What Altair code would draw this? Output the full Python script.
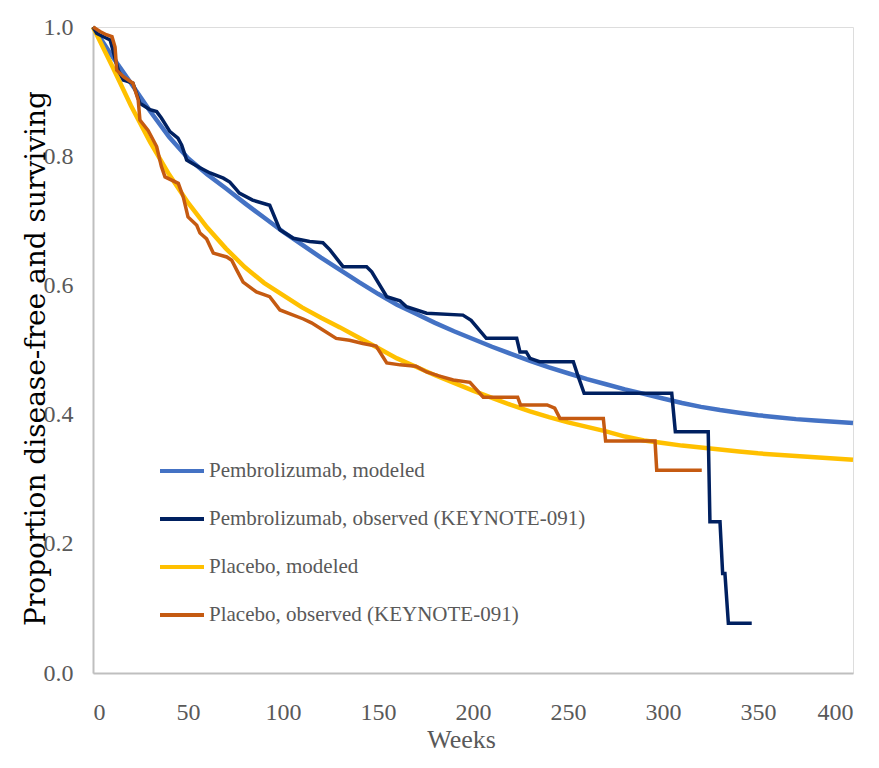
import altair as alt
import pandas as pd

SERIES = [
    "Pembrolizumab, modeled",
    "Pembrolizumab, observed (KEYNOTE-091)",
    "Placebo, modeled",
    "Placebo, observed (KEYNOTE-091)",
]
COLORS = ["#4472C4", "#002060", "#FFC000", "#C55A11"]

model_weeks = list(range(0, 401, 10))
pembro_model = [1.0, 0.955, 0.913, 0.87, 0.83, 0.797, 0.772, 0.75, 0.727, 0.705,
                0.683, 0.663, 0.643, 0.624, 0.605, 0.587, 0.57, 0.556, 0.542, 0.529,
                0.517, 0.505, 0.494, 0.483, 0.473, 0.464, 0.455, 0.447, 0.439, 0.432,
                0.425, 0.418, 0.412, 0.407, 0.403, 0.399, 0.396, 0.393, 0.391, 0.389,
                0.387]
placebo_model = [1.0, 0.94, 0.878, 0.822, 0.772, 0.728, 0.69, 0.657, 0.628, 0.604,
                 0.585, 0.566, 0.55, 0.535, 0.519, 0.503, 0.487, 0.474, 0.461, 0.449,
                 0.437, 0.426, 0.415, 0.405, 0.396, 0.388, 0.381, 0.374, 0.366, 0.36,
                 0.356, 0.352, 0.349, 0.346, 0.343, 0.34, 0.338, 0.336, 0.334, 0.332,
                 0.33]

pembro_obs_weeks = [0, 2, 9, 13.3, 16, 21, 24.7, 30, 33.5, 36, 40.5, 44.7, 46.7, 49.3,
                    51, 56.3, 61.6, 68.6, 72, 75.6, 77, 84, 93, 98.4, 105.4, 114, 121,
                    124.7, 131.6, 144, 146.7, 154.6, 161.6, 165, 175.6, 194.7, 199, 207,
                    223, 224.7, 228, 230, 235, 252.8, 255.4, 258.5, 304.6, 306.5, 323.8,
                    324.7, 330, 331.4, 332.6, 334.4, 346.7]
pembro_obs = [1.0, 0.99, 0.98, 0.933, 0.918, 0.913, 0.882, 0.872, 0.869, 0.859, 0.838,
              0.828, 0.817, 0.794, 0.791, 0.782, 0.774, 0.766, 0.76, 0.748, 0.743, 0.732,
              0.724, 0.686, 0.673, 0.668, 0.666, 0.655, 0.629, 0.629, 0.621, 0.5825,
              0.576, 0.567, 0.557, 0.554, 0.546, 0.518, 0.518, 0.497, 0.497, 0.487,
              0.482, 0.482, 0.4587, 0.433, 0.433, 0.3735, 0.3735, 0.234, 0.234, 0.154,
              0.154, 0.077, 0.077]

placebo_obs_weeks = [0, 3.7, 7, 10, 11.6, 12.5, 16, 21, 23.8, 24.7, 29, 33.5, 36, 37.9,
                     44.9, 47.5, 50, 54.6, 56.3, 59.8, 63.3, 70.4, 73, 75.6, 79, 86, 93,
                     98.4, 103.7, 110.7, 115, 121, 128, 135, 142, 149, 154.6, 161.6, 170,
                     175.6, 182, 189.6, 198.4, 205.4, 223.5, 225, 239, 243, 245.8, 268.6,
                     269.8, 295.8, 296.7, 320.4]
placebo_obs = [1.0, 0.993, 0.988, 0.985, 0.969, 0.933, 0.923, 0.913, 0.887, 0.856, 0.84,
               0.815, 0.784, 0.768, 0.758, 0.737, 0.706, 0.693, 0.681, 0.672, 0.65, 0.644,
               0.639, 0.624, 0.605, 0.59, 0.5825, 0.562, 0.556, 0.548, 0.542, 0.531,
               0.518, 0.515, 0.51, 0.506, 0.48, 0.477, 0.475, 0.466, 0.46, 0.4535, 0.45,
               0.427, 0.427, 0.415, 0.415, 0.41, 0.394, 0.394, 0.359, 0.359, 0.314, 0.314]

x_ticks = [0, 50, 100, 150, 200, 250, 300, 350, 400]
y_ticks = [0.0, 0.2, 0.4, 0.6, 0.8, 1.0]

rows = []
for name, kind, ws, vs in [
    (SERIES[0], "modeled", model_weeks, pembro_model),
    (SERIES[1], "observed", pembro_obs_weeks, pembro_obs),
    (SERIES[2], "modeled", model_weeks, placebo_model),
    (SERIES[3], "observed", placebo_obs_weeks, placebo_obs),
]:
    for i, (w, v) in enumerate(zip(ws, vs)):
        rows.append({"week": w, "value": v, "series": name, "kind": kind, "idx": i})
df = pd.DataFrame(rows)

x_enc = alt.X(
    "week:Q",
    scale=alt.Scale(domain=[0, 400], nice=False),
    axis=alt.Axis(
        values=x_ticks, title="Weeks", grid=False, ticks=False, tickSize=0,
        domainColor="#BFBFBF", domainWidth=2,
        labelFont="Liberation Serif", labelFontSize=24, labelColor="#595959",
        labelPadding=27,
        titleFont="Liberation Serif", titleFontSize=26, titleColor="#595959",
        titleFontWeight="normal", titleX=368, titleY=74, titleBaseline="alphabetic",
    ),
)
y_enc = alt.Y(
    "value:Q",
    scale=alt.Scale(domain=[0, 1], nice=False),
    axis=alt.Axis(
        values=y_ticks, format=".1f", title="Proportion disease-free and surviving",
        grid=False, ticks=False, tickSize=0,
        domainColor="#BFBFBF", domainWidth=2,
        labelFont="Liberation Serif", labelFontSize=24, labelColor="#595959",
        labelPadding=20,
        titleFont="DejaVu Serif", titleFontSize=28, titleColor="#000000",
        titleFontWeight="normal", titleX=-57, titleY=331, titleAngle=270,
        titleAlign="center", titleBaseline="middle",
    ),
)
color_enc = alt.Color(
    "series:N",
    scale=alt.Scale(domain=SERIES, range=COLORS),
    legend=alt.Legend(
        title=None, orient="none", legendX=65, legendY=420,
        symbolType="stroke", symbolSize=1936, symbolStrokeWidth=4,
        labelFont="Liberation Serif", labelFontSize=21, labelColor="#595959",
        labelOffset=3, rowPadding=14, padding=0, labelLimit=0,
    ),
)

base = alt.Chart(df).encode(x=x_enc, y=y_enc, color=color_enc, order=alt.Order("idx:Q"))
modeled = base.transform_filter(alt.datum.kind == "modeled").mark_line(strokeWidth=4.5)
observed = base.transform_filter(alt.datum.kind == "observed").mark_line(strokeWidth=3.5)

chart = (
    alt.layer(modeled, observed)
    .properties(
        width=760, height=646,
        autosize=alt.AutoSizeParams(type="none"),
        padding={"left": 85, "top": 19, "right": 14, "bottom": 83},
    )
    .configure_view(stroke=None)
    .configure(background="white")
)

chart.save("out.html", embed_options={"renderer": "svg", "actions": False})
